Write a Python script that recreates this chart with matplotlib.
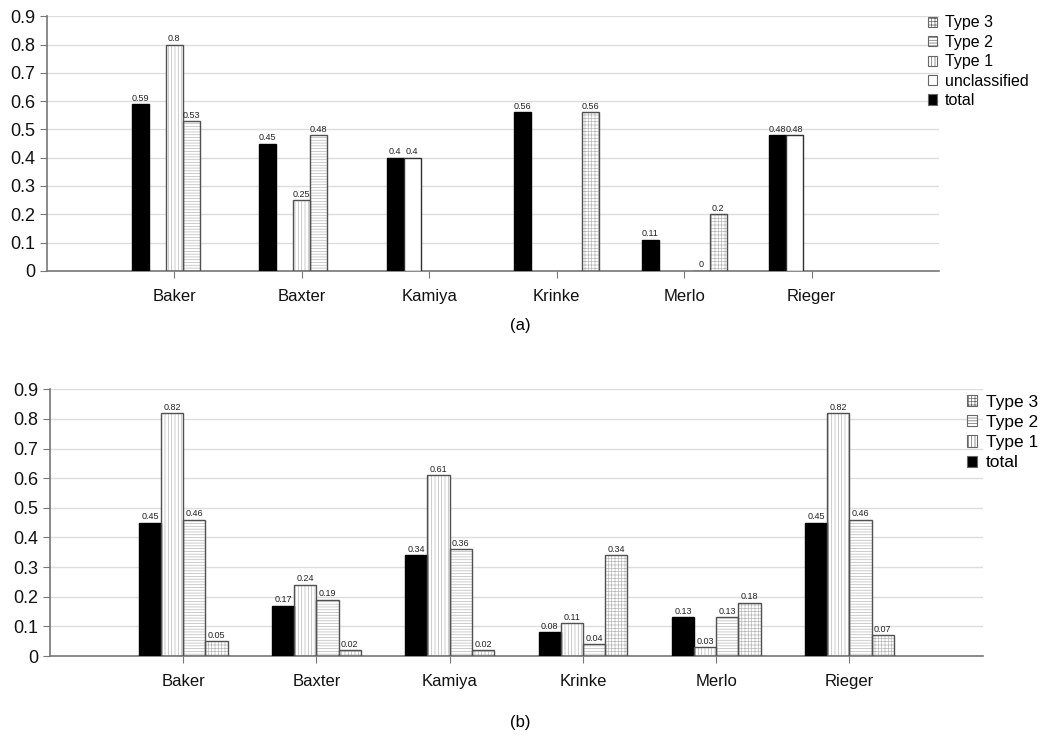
import numpy as np
import matplotlib
matplotlib.use("Agg")
import matplotlib.pyplot as plt
from matplotlib.patches import Patch

categories = ["Baker", "Baxter", "Kamiya", "Krinke", "Merlo", "Rieger"]
yticks = [0, 0.1, 0.2, 0.3, 0.4, 0.5, 0.6, 0.7, 0.8, 0.9]
ytick_labels = ["0", "0.1", "0.2", "0.3", "0.4", "0.5", "0.6", "0.7", "0.8", "0.9"]

nan = np.nan
# Chart (a)
a_total = [0.59, 0.45, 0.40, 0.56, 0.11, 0.48]
a_unclassified = [nan, nan, 0.40, nan, nan, 0.48]
a_type1 = [0.80, 0.25, nan, nan, nan, nan]
a_type2 = [0.53, 0.48, nan, nan, 0.0, nan]
a_type3 = [nan, nan, nan, 0.56, 0.20, nan]

# Chart (b)
b_total = [0.45, 0.17, 0.34, 0.08, 0.13, 0.45]
b_type1 = [0.82, 0.24, 0.61, 0.11, 0.03, 0.82]
b_type2 = [0.46, 0.19, 0.36, 0.04, 0.13, 0.46]
b_type3 = [0.05, 0.02, 0.02, 0.34, 0.18, 0.07]

styles = {
    "total": dict(face="black", hatch=None),
    "unclassified": dict(face="white", hatch=None),
    "Type 1": dict(face="white", hatch="|||||"),
    "Type 2": dict(face="white", hatch="------"),
    "Type 3": dict(face="white", hatch="+++++"),
}

plt.rcParams["font.family"] = ["Liberation Sans", "DejaVu Sans"]
plt.rcParams["hatch.linewidth"] = 0.5
plt.rcParams["hatch.color"] = "#b8b8b8"

fig = plt.figure(figsize=(10.41, 7.4), dpi=100)
ax_a = fig.add_axes([0.045, 0.634, 0.857, 0.344])
ax_b = fig.add_axes([0.048, 0.1135, 0.896, 0.3605])

def draw(ax, series, legend_fs, legend_anchor, spacing):
    x = np.arange(len(categories))
    n = len(series)
    group = 0.667
    w = group / n
    for k, (name, vals) in enumerate(series):
        st = styles[name]
        vals = np.array(vals, dtype=float)
        mask = ~np.isnan(vals)
        xs = x[mask] - group / 2 + w * (k + 0.5)
        hv = vals[mask]
        if st["hatch"]:
            ax.bar(xs, hv, width=w, color="white", edgecolor="#b8b8b8",
                   hatch=st["hatch"], linewidth=0, zorder=2)
            bars = ax.bar(xs, hv, width=w, fill=False, edgecolor="#505050",
                          linewidth=1.0, zorder=3)
        else:
            bars = ax.bar(xs, hv, width=w, color=st["face"],
                          edgecolor="#303030" if st["face"] == "white" else "black",
                          linewidth=1.0, zorder=3)
        ax.bar_label(bars, labels=[f"{v:g}" for v in hv], fontsize=6.5,
                     padding=1, color="#222222")
    ax.set_xlim(-1, 6)
    ax.set_ylim(0, 0.9)
    ax.set_yticks(yticks)
    ax.set_yticklabels(ytick_labels, fontsize=13)
    ax.set_xticks(x)
    ax.set_xticklabels(categories, fontsize=12)
    ax.grid(axis="y", color="#dddddd", linewidth=1.0, zorder=0)
    ax.set_axisbelow(True)
    for s in ["top", "right"]:
        ax.spines[s].set_visible(False)
    for s in ["left", "bottom"]:
        ax.spines[s].set_color("#777777")
        ax.spines[s].set_linewidth(1.2)
    ax.tick_params(axis="both", colors="#777777", labelcolor="#111111", length=5)
    ax.tick_params(axis="x", pad=8)
    handles = []
    for name, _ in reversed(series):
        st = styles[name]
        handles.append(Patch(facecolor=st["face"], edgecolor="#666666",
                             hatch=st["hatch"], linewidth=0.8, label=name))
    ax.legend(handles=handles, loc="upper left", bbox_to_anchor=legend_anchor,
              bbox_transform=fig.transFigure, frameon=False, fontsize=legend_fs,
              handlelength=0.6, handleheight=0.6, handletextpad=0.5,
              labelspacing=spacing, borderaxespad=0)

draw(ax_a, [("total", a_total), ("unclassified", a_unclassified),
            ("Type 1", a_type1), ("Type 2", a_type2), ("Type 3", a_type3)],
     11.5, (0.885, 0.988), 0.28)
draw(ax_b, [("total", b_total), ("Type 1", b_type1),
            ("Type 2", b_type2), ("Type 3", b_type3)],
     12.5, (0.922, 0.476), 0.3)

fig.text(0.5, 1 - 326 / 740, "(a)", ha="center", va="center", fontsize=12)
fig.text(0.5, 1 - 723 / 740, "(b)", ha="center", va="center", fontsize=12)

fig.savefig("out.png", dpi=100, facecolor="white")
